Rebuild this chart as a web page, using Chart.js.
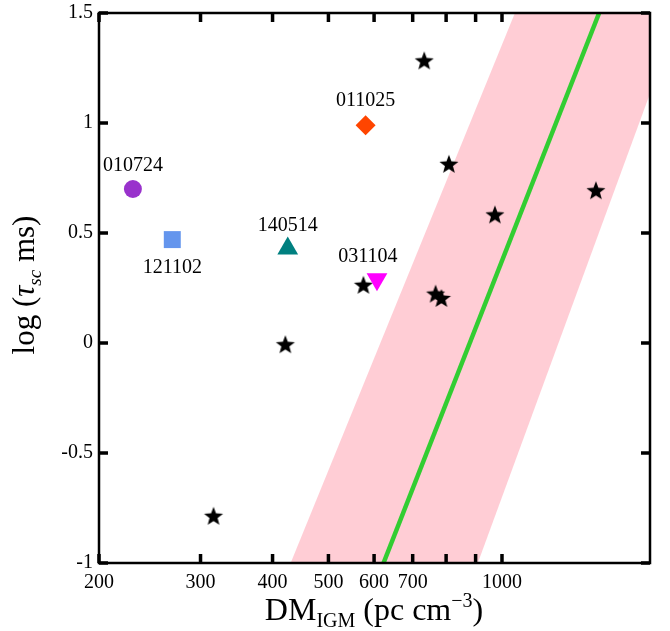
<!DOCTYPE html>
<html>
<head>
<meta charset="utf-8">
<script src="https://cdn.jsdelivr.net/npm/chart.js@4.4.1/dist/chart.umd.min.js"></script>
<style>
  html, body { margin: 0; padding: 0; background: #fff; }
</style>
</head>
<body>
<canvas id="scatChart" width="670" height="631"></canvas>
<script>
// FRBs (stars)
const frbDM = [316, 421, 575, 767, 785, 733, 809, 972, 1455];
const frbTau = [-0.79, -0.01, 0.26, 0.22, 0.20, 1.28, 0.81, 0.58, 0.69];

// GRB afterglows, one marker each
const grbNames = ["010724", "121102", "140514", "011025", "031104"];
const grbDM = [229, 268, 425, 580, 607];
const grbTau = [0.70, 0.47, 0.43, 0.99, 0.29];

// scaling relation and its spread
const fitDM = [623, 1474];
const fitTau = [-1, 1.5];
const bandLowDM = [430, 1053];
const bandHighDM = [908, 2032];
const bandTau = [-1, 1.5];

const xTicks = [200, 300, 400, 500, 600, 700, 800, 900, 1000];
const xTickLabels = ["200", "300", "400", "500", "600", "700", "", "", "1000"];
const yTicks = [-1, -0.5, 0, 0.5, 1, 1.5];

const SERIF = "'Liberation Serif', 'DejaVu Serif', serif";

const grbColors = ["#9932CC", "#6495ED", "#008080", "#FF4500", "#FF00FF"];
const grbStyles = ["circle", "rect", "triangle", "rectRot", "triangle"];
const grbRadius = [9, 12, 12, 10, 12];
const grbRotation = [0, 0, 0, 0, 180];
const labelShift = [[0, -23], [0, 28], [0, -23], [0, -24], [-9, -22]];

function makeStar(R) {
    const size = Math.ceil(R * 2 + 2);
    const c = document.createElement("canvas");
    c.width = size;
    c.height = size;
    const g = c.getContext("2d");
    g.translate(size / 2, size / 2);
    g.beginPath();
    for (let i = 0; i < 10; i++) {
        const r = i % 2 === 0 ? R : R * 0.42;
        const a = -Math.PI / 2 + i * Math.PI / 5;
        g.lineTo(r * Math.cos(a), r * Math.sin(a));
    }
    g.closePath();
    g.fillStyle = "#000";
    g.fill();
    return c;
}

const starImg = makeStar(10);

const frameTicks = {
    id: "frameTicks",
    afterDatasetsDraw(chart) {
        const { ctx, chartArea: a, scales: { x, y } } = chart;
        ctx.save();
        ctx.strokeStyle = "#000";
        ctx.lineWidth = 2.5;
        ctx.strokeRect(a.left, a.top, a.right - a.left, a.bottom - a.top);
        ctx.lineWidth = 3.5;
        ctx.beginPath();
        xTicks.forEach(v => {
            const px = x.getPixelForValue(v);
            ctx.moveTo(px, a.bottom);
            ctx.lineTo(px, a.bottom - 9);
            ctx.moveTo(px, a.top);
            ctx.lineTo(px, a.top + 9);
        });
        yTicks.forEach(v => {
            const py = y.getPixelForValue(v);
            ctx.moveTo(a.left, py);
            ctx.lineTo(a.left + 9, py);
            ctx.moveTo(a.right, py);
            ctx.lineTo(a.right - 9, py);
        });
        ctx.stroke();
        ctx.restore();
    }
};

const grbLabels = {
    id: "grbLabels",
    afterDatasetsDraw(chart) {
        const { ctx, scales: { x, y } } = chart;
        ctx.save();
        ctx.font = "20px " + SERIF;
        ctx.fillStyle = "#000";
        ctx.textAlign = "center";
        ctx.textBaseline = "middle";
        grbNames.forEach((name, i) => {
            const px = x.getPixelForValue(grbDM[i]) + labelShift[i][0];
            const py = y.getPixelForValue(grbTau[i]) + labelShift[i][1];
            ctx.fillText(name, px, py);
        });
        ctx.restore();
    }
};

// draw a run of [text, size, italic, baselineShift] pieces
function richWidth(ctx, parts) {
    let w = 0;
    parts.forEach(p => {
        ctx.font = (p[2] ? "italic " : "") + p[1] + "px " + SERIF;
        w += ctx.measureText(p[0]).width;
    });
    return w;
}
function richDraw(ctx, parts, x0, base) {
    let cx = x0;
    parts.forEach(p => {
        ctx.font = (p[2] ? "italic " : "") + p[1] + "px " + SERIF;
        ctx.fillText(p[0], cx, base + p[3]);
        cx += ctx.measureText(p[0]).width;
    });
}

const axisTitles = {
    id: "axisTitles",
    afterDraw(chart) {
        const { ctx } = chart;
        ctx.save();
        ctx.fillStyle = "#000";
        ctx.textAlign = "left";
        ctx.textBaseline = "alphabetic";

        const xParts = [["DM", 32, false, 0], ["IGM", 20, false, 7], [" (pc cm", 32, false, 0],
                        ["\u22123", 20, false, -13], [")", 32, false, 0]];
        const xw = richWidth(ctx, xParts);
        richDraw(ctx, xParts, 374 - xw / 2, 620);

        const yParts = [["log (", 31, false, 0], ["\u03C4", 31, true, 0], ["sc", 19, true, 7],
                        [" ms)", 31, false, 0]];
        const yw = richWidth(ctx, yParts);
        ctx.translate(34, 285);
        ctx.rotate(-Math.PI / 2);
        richDraw(ctx, yParts, -yw / 2, 0);
        ctx.restore();
    }
};

const frbPoints = frbDM.map((d, i) => ({ x: d, y: frbTau[i] }));

const grbSets = grbNames.map((name, i) => ({
    label: name,
    data: [{ x: grbDM[i], y: grbTau[i] }],
    pointStyle: grbStyles[i],
    pointRadius: grbRadius[i],
    pointRotation: grbRotation[i],
    backgroundColor: grbColors[i],
    borderColor: grbColors[i],
    borderWidth: 0,
    showLine: false,
    order: 0
}));

new Chart(document.getElementById("scatChart"), {
    type: "scatter",
    data: {
        datasets: [
            ...grbSets,
            {
                label: "FRB",
                data: frbPoints,
                pointStyle: starImg,
                pointRadius: 10,
                showLine: false,
                order: 1
            },
            {
                label: "fit",
                data: fitDM.map((d, i) => ({ x: d, y: fitTau[i] })),
                showLine: true,
                borderColor: "#32CD32",
                borderWidth: 4.5,
                pointRadius: 0,
                fill: false,
                order: 2
            },
            {
                label: "band",
                data: [
                    { x: bandLowDM[0], y: bandTau[0] },
                    { x: bandLowDM[1], y: bandTau[1] },
                    { x: bandHighDM[1], y: bandTau[1] },
                    { x: bandHighDM[0], y: bandTau[0] }
                ],
                showLine: true,
                borderWidth: 0,
                borderColor: "rgba(0,0,0,0)",
                backgroundColor: "rgba(255,192,203,0.8)",
                pointRadius: 0,
                fill: "shape",
                order: 3
            }
        ]
    },
    options: {
        responsive: false,
        animation: false,
        layout: { padding: { top: 13, right: 20, left: 0, bottom: 0 } },
        plugins: {
            legend: { display: false },
            tooltip: { enabled: false }
        },
        scales: {
            x: {
                type: "logarithmic",
                min: 200,
                max: 1806,
                grid: { display: false, drawTicks: false },
                border: { display: false },
                afterBuildTicks: scale => {
                    scale.ticks = xTicks.map(v => ({ value: v }));
                },
                afterFit: scale => {
                    scale.height = 68;
                    scale.paddingLeft = 0;
                    scale.paddingRight = 0;
                },
                ticks: {
                    autoSkip: false,
                    maxRotation: 0,
                    padding: 8,
                    color: "#000",
                    font: { family: SERIF, size: 20 },
                    callback: value => xTickLabels[xTicks.indexOf(value)] ?? ""
                }
            },
            y: {
                min: -1,
                max: 1.5,
                grid: { display: false, drawTicks: false },
                border: { display: false },
                afterBuildTicks: scale => {
                    scale.ticks = yTicks.map(v => ({ value: v }));
                },
                afterFit: scale => {
                    scale.width = 99;
                    scale.paddingTop = 0;
                    scale.paddingBottom = 0;
                },
                ticks: {
                    padding: 6,
                    color: "#000",
                    font: { family: SERIF, size: 20 },
                    callback: value => String(value)
                }
            }
        }
    },
    plugins: [frameTicks, grbLabels, axisTitles]
});
</script>
</body>
</html>
